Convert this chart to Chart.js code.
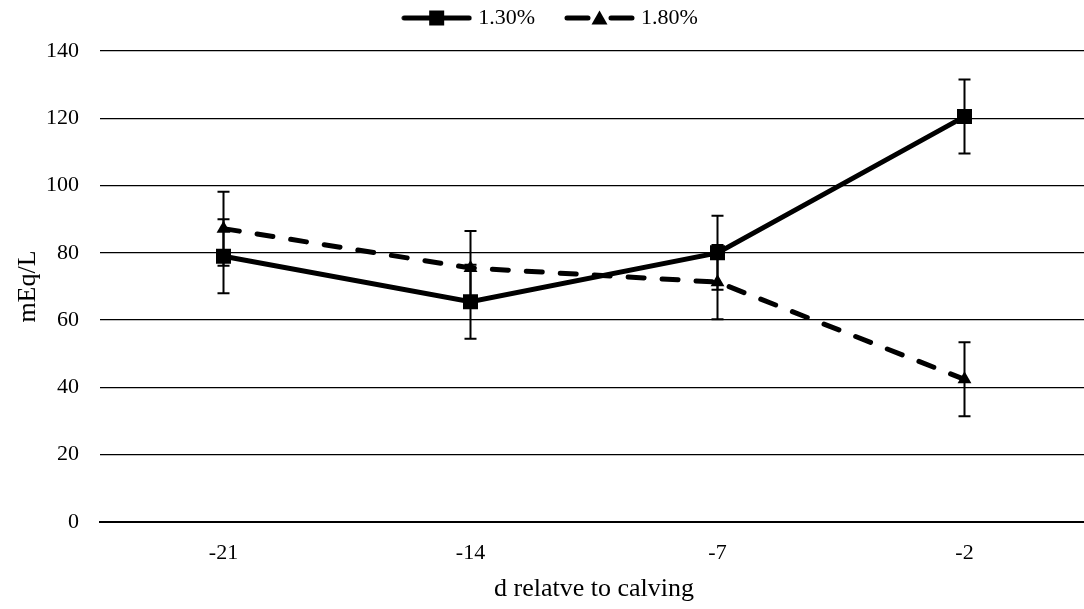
<!DOCTYPE html>
<html>
<head>
<meta charset="utf-8">
<script src="https://cdn.jsdelivr.net/npm/chart.js@4"></script>
<style>
    html, body { margin: 0; padding: 0; background: #ffffff; overflow: hidden; }
    canvas { display: block; }
</style>
</head>
<body>
<canvas id="chart" width="1088" height="609"></canvas>
<script>
let
    dayLabels = ['-21', '-14', '-7', '-2'],
    lowValues = [79.0, 65.5, 80.0, 120.5],
    lowErrors = [11, 11, 11, 11],
    highValues = [87.2, 75.5, 71.3, 42.4],
    highErrors = [11, 11, 11, 11],
    seriesNames = ['1.30%', '1.80%'],
    yTicks = [0, 20, 40, 60, 80, 100, 120, 140];

Chart.defaults.font.family = "'Liberation Serif', 'Times New Roman', serif";
Chart.defaults.font.size = 22;
Chart.defaults.color = '#000000';

// legend samples: a short line with the marker on it
function makeLegendIcon(dashed, marker) {
    const icon = document.createElement('canvas');
    icon.width = 71;
    icon.height = 20;
    const ctx = icon.getContext('2d');
    ctx.strokeStyle = '#000000';
    ctx.fillStyle = '#000000';
    ctx.lineWidth = 5;
    ctx.lineCap = 'round';
    ctx.beginPath();
    if (dashed) {
        ctx.moveTo(3, 10); ctx.lineTo(24, 10);
        ctx.moveTo(47, 10); ctx.lineTo(68, 10);
    } else {
        ctx.moveTo(3, 10); ctx.lineTo(68, 10);
    }
    ctx.stroke();
    ctx.beginPath();
    if (marker === 'rect') {
        ctx.rect(28, 2.5, 15, 15);
    } else {
        ctx.moveTo(35.5, 2.5);
        ctx.lineTo(43.5, 16.5);
        ctx.lineTo(27.5, 16.5);
        ctx.closePath();
    }
    ctx.fill();
    return icon;
}

const legendIcons = [makeLegendIcon(false, 'rect'), makeLegendIcon(true, 'triangle')];

const errorBars = {
    id: 'errorBars',
    beforeDatasetsDraw(chart) {
        const { ctx, scales: { x, y } } = chart;
        const sets = [[lowValues, lowErrors], [highValues, highErrors]];
        ctx.save();
        ctx.strokeStyle = '#000000';
        ctx.lineWidth = 2;
        sets.forEach(([values, errors]) => {
            values.forEach((v, i) => {
                const px = x.getPixelForValue(i),
                    top = y.getPixelForValue(v + errors[i]),
                    bottom = y.getPixelForValue(v - errors[i]);
                ctx.beginPath();
                ctx.moveTo(px, top); ctx.lineTo(px, bottom);
                ctx.moveTo(px - 6, top); ctx.lineTo(px + 6, top);
                ctx.moveTo(px - 6, bottom); ctx.lineTo(px + 6, bottom);
                ctx.stroke();
            });
        });
        ctx.restore();
    }
};

const ctx = document.getElementById('chart').getContext('2d');

new Chart(ctx, {
    type: 'line',
    plugins: [errorBars],
    data: {
        labels: dayLabels,
        datasets: [{
            label: seriesNames[0],
            data: lowValues,
            borderColor: '#000000',
            borderWidth: 5,
            tension: 0,
            pointStyle: 'rect',
            pointRadius: 10.6,
            pointHoverRadius: 10.6,
            pointBackgroundColor: '#000000',
            pointBorderWidth: 0
        }, {
            label: seriesNames[1],
            data: highValues,
            borderColor: '#000000',
            borderWidth: 5,
            borderDash: [16, 18],
            borderCapStyle: 'round',
            tension: 0,
            pointStyle: 'triangle',
            pointRadius: 8,
            pointHoverRadius: 8,
            pointBackgroundColor: '#000000',
            pointBorderWidth: 0
        }]
    },
    options: {
        responsive: false,
        animation: false,
        layout: {
            autoPadding: false,
            padding: { top: -27, left: 16, right: 0, bottom: 0 }
        },
        plugins: {
            tooltip: { enabled: false },
            legend: {
                position: 'top',
                labels: {
                    usePointStyle: true,
                    pointStyleWidth: 61,
                    padding: 34,
                    color: '#000000',
                    generateLabels: function(chart) {
                        return chart.data.datasets.map((ds, i) => ({
                            text: ds.label,
                            pointStyle: legendIcons[i],
                            fillStyle: '#000000',
                            strokeStyle: '#000000',
                            lineWidth: 0,
                            hidden: false,
                            datasetIndex: i,
                            fontColor: '#000000'
                        }));
                    }
                }
            }
        },
        scales: {
            x: {
                type: 'category',
                offset: true,
                grid: { display: false, drawTicks: false },
                border: { display: true, color: '#000000', width: 2 },
                ticks: { padding: 18, color: '#000000' },
                title: {
                    display: true,
                    text: 'd relatve to calving',
                    color: '#000000',
                    font: { size: 26, lineHeight: 1 },
                    padding: { top: 0, bottom: 7 }
                },
                afterFit: function(scale) { scale.height = 87; }
            },
            xTop: {
                type: 'category',
                position: 'top',
                grid: { display: false, drawTicks: false },
                border: { display: false },
                ticks: { display: false },
                afterFit: function(scale) { scale.height = 12; }
            },
            y: {
                min: 0,
                max: 140,
                afterBuildTicks: function(scale) {
                    scale.ticks = yTicks.map(v => ({ value: v }));
                },
                grid: { color: '#000000', lineWidth: 1.3, drawTicks: false },
                border: { display: false },
                ticks: { padding: 21, color: '#000000' },
                title: {
                    display: true,
                    text: 'mEq/L',
                    color: '#000000',
                    font: { size: 26, lineHeight: 1 },
                    padding: { top: -1, bottom: 0 }
                },
                afterFit: function(scale) { scale.width = 84; }
            }
        }
    }
});
</script>
</body>
</html>
